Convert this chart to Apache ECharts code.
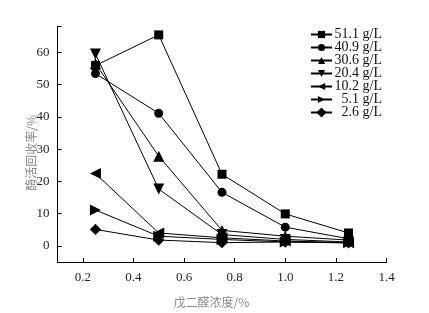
<!DOCTYPE html>
<html>
<head>
<meta charset="utf-8">
<script src="https://cdn.jsdelivr.net/npm/echarts@6/dist/echarts.min.js"></script>
<style>html,body{margin:0;padding:0;background:#fff;}#c{width:429px;height:313px;}</style>
</head>
<body>
<div id="c"></div>
<script>
var xValues = [0.25, 0.5, 0.75, 1.0, 1.25];
var seriesNames = ['51.1 g/L', '40.9 g/L', '30.6 g/L', '20.4 g/L', '10.2 g/L', '5.1 g/L', '2.6 g/L'];
var s511 = [55.9, 65.4, 22.2, 9.9, 4.0];
var s409 = [53.4, 41.1, 16.6, 5.8, 2.2];
var s306 = [56.5, 27.8, 4.8, 3.0, 1.8];
var s204 = [59.5, 17.6, 3.5, 2.0, 1.2];
var s102 = [22.4, 4.0, 2.5, 1.5, 1.0];
var s51 = [11.1, 3.0, 2.0, 1.2, 1.0];
var s26 = [5.1, 1.8, 1.0, 1.2, 0.9];
var allValues = [s511, s409, s306, s204, s102, s51, s26];
var xAxisName = '戊二醛浓度/%';
var yAxisName = '酶活回收率/%';

var symbols = [
  {symbol: 'rect', size: 9, rotate: 0},
  {symbol: 'circle', size: 9, rotate: 0},
  {symbol: 'triangle', size: 11, rotate: 0},
  {symbol: 'triangle', size: 11, rotate: 180},
  {symbol: 'triangle', size: 11, rotate: 90},
  {symbol: 'triangle', size: 11, rotate: -90},
  {symbol: 'rect', size: 8, rotate: 45}
];

var serif = '"Liberation Serif", "Times New Roman", serif';
var series = seriesNames.map(function (name, i) {
  return {
    name: name,
    type: 'line',
    data: xValues.map(function (x, j) { return [x, allValues[i][j]]; }),
    symbol: symbols[i].symbol,
    symbolSize: symbols[i].size,
    symbolRotate: symbols[i].rotate,
    lineStyle: {color: '#000', width: 1},
    itemStyle: {color: '#000'},
    z: 10 - i
  };
});

var chart = echarts.init(document.getElementById('c'), null, {renderer: 'canvas'});
chart.setOption({
  animation: false,
  backgroundColor: '#fff',
  grid: {left: 57.5, right: 42.5, top: 26.5, bottom: 49.5, containLabel: false},
  legend: {
    orient: 'vertical',
    right: 47,
    top: 27.5,
    padding: 0,
    itemWidth: 21,
    itemHeight: 9,
    itemGap: -1,
    symbolRotate: 'inherit',
    data: seriesNames,
    formatter: function (n) { return '{a|' + n + '}'; },
    textStyle: {
      fontFamily: serif, fontSize: 14, color: '#111', padding: [0, 0, 0, -5],
      rich: {a: {width: 50, height: 12.8, lineHeight: 12.8, align: 'right', fontFamily: serif, fontSize: 14, color: '#111'}}
    }
  },
  xAxis: {
    type: 'value',
    min: 0.1,
    max: 1.4,
    splitNumber: 6,
    name: xAxisName,
    nameLocation: 'middle',
    nameGap: 34,
    nameMoveOverlap: false,
    nameTextStyle: {fontFamily: '"Noto Sans CJK SC", sans-serif', fontSize: 12, color: '#8a8a8a', padding: [0, 21, 0, 0]},
    axisLine: {onZero: false, lineStyle: {color: '#000', width: 1}},
    axisTick: {inside: true, length: 4, lineStyle: {color: '#000'}},
    axisLabel: {
      fontFamily: serif, fontSize: 13, color: '#222', margin: 9,
      formatter: function (v) {
        var r = Math.round(v * 10) / 10;
        if (Math.abs(r * 5 - Math.round(r * 5)) > 1e-6) return '';
        return r.toFixed(1);
      }
    },
    splitLine: {show: false}
  },
  yAxis: {
    type: 'value',
    min: -5,
    max: 68,
    splitNumber: 7,
    name: yAxisName,
    nameLocation: 'middle',
    nameRotate: 90,
    nameGap: 20,
    nameMoveOverlap: false,
    nameTextStyle: {fontFamily: '"Noto Sans CJK SC", sans-serif', fontSize: 12, color: '#8a8a8a', padding: [0, 17, 0, 0]},
    axisLine: {lineStyle: {color: '#000', width: 1}},
    axisTick: {inside: true, length: 4, lineStyle: {color: '#000'}},
    axisLabel: {
      fontFamily: serif, fontSize: 13, color: '#222', margin: 8,
      showMinLabel: true, showMaxLabel: true,
      formatter: function (v) {
        if (Math.abs(v % 10) > 1e-6) return '';
        return String(Math.round(v));
      }
    },
    splitLine: {show: false}
  },
  series: series
});
</script>
</body>
</html>
